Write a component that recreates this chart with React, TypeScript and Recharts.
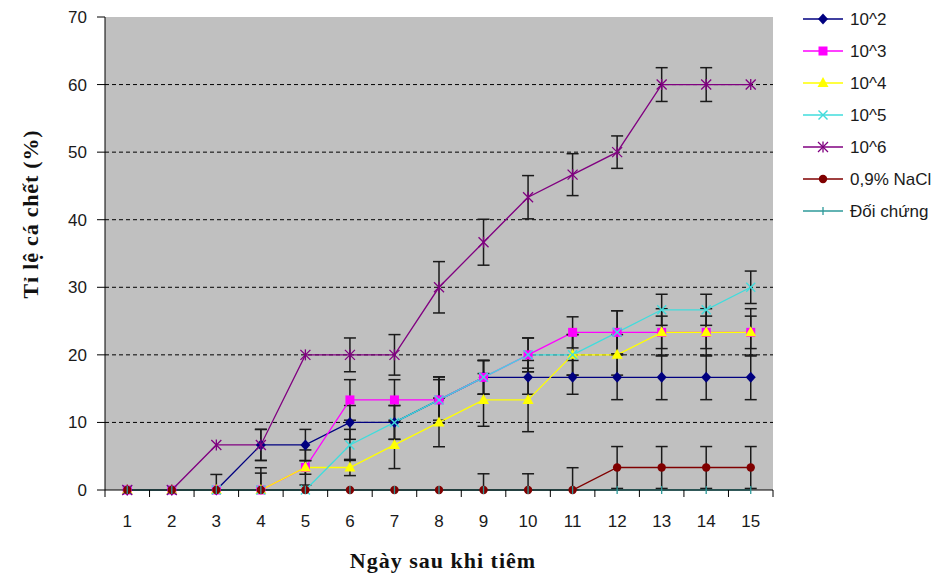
import React from 'react';
import { LineChart, Line, XAxis, YAxis, CartesianGrid, ErrorBar, Legend } from 'recharts';

// ---------- data ----------
const days = ['1', '2', '3', '4', '5', '6', '7', '8', '9', '10', '11', '12', '13', '14', '15'];
const yTicks = [0, 10, 20, 30, 40, 50, 60, 70];
const gridValues = [10, 20, 30, 40, 50, 60];

const v102 = [0, 0, 0, 6.67, 6.67, 10, 10, 13.33, 16.67, 16.67, 16.67, 16.67, 16.67, 16.67, 16.67];
const v103 = [0, 0, 0, 0, 3.33, 13.33, 13.33, 13.33, 16.67, 20, 23.33, 23.33, 23.33, 23.33, 23.33];
const v104 = [0, 0, 0, 0, 3.33, 3.33, 6.67, 10, 13.33, 13.33, 20, 20, 23.33, 23.33, 23.33];
const v105 = [0, 0, 0, 0, 0, 6.67, 10, 13.33, 16.67, 20, 20, 23.33, 26.67, 26.67, 30];
const v106 = [0, 0, 6.67, 6.67, 20, 20, 20, 30, 36.67, 43.33, 46.67, 50, 60, 60, 60];
const vNaCl = [0, 0, 0, 0, 0, 0, 0, 0, 0, 0, 0, 3.33, 3.33, 3.33, 3.33];
const vCtrl = [0, 0, 0, 0, 0, 0, 0, 0, 0, 0, 0, 0, 0, 0, 0];

type Err = number | [number, number] | null;
const e102: Err[] = [null, null, [0, 2.3], 2.3, 2.3, 2.5, 2.5, 3, 2.5, 2.5, 2.5, 3.3, 3.3, 3.3, 3.3];
const e103: Err[] = [null, null, null, [0, 3.3], 2.6, 3, 3, 3.4, 2.5, 2.5, 2.3, 3.2, 2.4, 2.4, 2.4];
const e104: Err[] = [null, null, null, [0, 2.5], 1, 1.2, 3.5, 3.6, 3.9, 4.7, 3, 3, 3.5, 3.5, 3.5];
const e105: Err[] = [null, null, null, null, null, 2.3, 2.5, 3.4, 2.5, 2.5, 3, 3.2, 2.3, 2.3, 2.4];
const e106: Err[] = [null, null, null, 2.3, null, 2.5, 3, 3.8, 3.4, 3.2, 3.1, 2.4, 2.5, 2.5, null];
const eNaCl: Err[] = [null, null, null, null, null, null, null, null, [0, 2.4], [0, 2.4], [0, 3.3], 3.1, 3.1, 3.1, 3.1];
const eCtrl: Err[] = [null, null, null, null, null, null, null, null, null, null, null, null, null, null, null];

const seriesNames = ['10^2', '10^3', '10^4', '10^5', '10^6', '0,9% NaCl', 'Đối chứng'];
const seriesColors = ['#000080', '#FF00FF', '#FFFF00', '#40DCDC', '#800080', '#800000', '#2E9A9A'];
const seriesMarkers = ['diamond', 'square', 'triangle', 'x', 'asterisk', 'circle', 'plus'];
const seriesValues = [v102, v103, v104, v105, v106, vNaCl, vCtrl];
const seriesErrors = [e102, e103, e104, e105, e106, eNaCl, eCtrl];

const SERIES = seriesNames.map((name, i) => ({
  key: 's' + i,
  name,
  color: seriesColors[i],
  marker: seriesMarkers[i],
  values: seriesValues[i],
  errors: seriesErrors[i],
}));

const data = days.map((d, i) => {
  const row: Record<string, any> = { day: d };
  SERIES.forEach((s) => {
    row[s.key] = s.values[i];
    row[s.key + '_e'] = s.errors[i];
  });
  return row;
});

// ---------- layout ----------
const W = 949;
const H = 579;
const PLOT_LEFT = 105;
const PLOT_TOP = 17;
const RIGHT_GAP = 176;
const XAXIS_H = 89;
const PLOT_W = W - PLOT_LEFT - RIGHT_GAP;
const BAND = PLOT_W / days.length;
const X_TICK = 7;
const X_MARGIN = 18;
const SANS = '"Liberation Sans", Arial, sans-serif';
const SERIF = '"Liberation Serif", "Times New Roman", serif';

function Marker({ type, cx, cy, color }: { type: string; cx: number; cy: number; color: string }) {
  if (cx == null || cy == null) return null;
  switch (type) {
    case 'diamond':
      return <polygon points={`${cx},${cy - 5.5} ${cx + 5},${cy} ${cx},${cy + 5.5} ${cx - 5},${cy}`} fill={color} />;
    case 'square':
      return <rect x={cx - 4.5} y={cy - 4.5} width={9} height={9} fill={color} />;
    case 'triangle':
      return <polygon points={`${cx},${cy - 6} ${cx + 5.5},${cy + 4} ${cx - 5.5},${cy + 4}`} fill={color} />;
    case 'x':
      return (
        <g stroke={color} strokeWidth={1.4}>
          <line x1={cx - 4.5} y1={cy - 4.5} x2={cx + 4.5} y2={cy + 4.5} />
          <line x1={cx - 4.5} y1={cy + 4.5} x2={cx + 4.5} y2={cy - 4.5} />
        </g>
      );
    case 'asterisk':
      return (
        <g stroke={color} strokeWidth={1.3}>
          <line x1={cx - 5} y1={cy - 5} x2={cx + 5} y2={cy + 5} />
          <line x1={cx - 5} y1={cy + 5} x2={cx + 5} y2={cy - 5} />
          <line x1={cx} y1={cy - 5.5} x2={cx} y2={cy + 5.5} />
        </g>
      );
    case 'circle':
      return <circle cx={cx} cy={cy} r={4.2} fill={color} />;
    case 'plus':
      return <line x1={cx} y1={cy - 4} x2={cx} y2={cy + 4} stroke={color} strokeWidth={1.3} />;
    default:
      return null;
  }
}

function XTick(props: any) {
  const { x, y, payload, index } = props;
  const half = BAND / 2;
  const y1 = y - X_TICK - X_MARGIN;
  const y2 = y - X_MARGIN;
  return (
    <g>
      {index === 0 && <line x1={x - half} x2={x - half} y1={y1} y2={y2} stroke="#000" />}
      <line x1={x + half} x2={x + half} y1={y1} y2={y2} stroke="#000" />
      <text x={x} y={y} dy="0.71em" textAnchor="middle" fontSize={17} fill="#1a1a1a" fontFamily={SANS}>
        {payload.value}
      </text>
    </g>
  );
}

function LegendContent() {
  return (
    <svg width={150} height={230} style={{ display: 'block' }}>
      {SERIES.map((s, i) => {
        const y = 19 + i * 32;
        return (
          <g key={s.key}>
            <line x1={8} x2={48} y1={y} y2={y} stroke={s.color} strokeWidth={1.5} />
            <Marker type={s.marker} cx={28} cy={y} color={s.color} />
            <text x={55} y={y} dy="0.355em" fontSize={17} fill="#1a1a1a" fontFamily={SANS}>
              {s.name}
            </text>
          </g>
        );
      })}
    </svg>
  );
}

export default function App() {
  const yTitleX = 30;
  const yTitleY = 214;
  return (
    <div style={{ position: 'absolute', left: 0, top: 0, width: W, height: H, background: '#fff' }}>
      <LineChart width={W} height={H} data={data} margin={{ top: PLOT_TOP, right: RIGHT_GAP, bottom: 0, left: 0 }}>
        <CartesianGrid
          vertical={false}
          horizontalValues={gridValues}
          stroke="#000"
          strokeDasharray="4 3"
          fill="#C0C0C0"
          fillOpacity={1}
        />
        <XAxis
          dataKey="day"
          scale="band"
          height={XAXIS_H}
          interval={0}
          axisLine={{ stroke: '#000', strokeWidth: 1 }}
          tickLine={false}
          tickSize={X_TICK}
          tickMargin={X_MARGIN}
          tick={<XTick />}
        />
        <XAxis xAxisId="top" orientation="top" height={0} axisLine={{ stroke: '#909090', strokeWidth: 1.5 }} tick={false} tickLine={false} />
        <YAxis
          width={PLOT_LEFT}
          domain={[0, 70]}
          ticks={yTicks}
          interval={0}
          axisLine={{ stroke: '#000', strokeWidth: 1 }}
          tickLine={{ stroke: '#000' }}
          tickSize={8}
          tickMargin={10}
          tick={{ fontSize: 17, fill: '#1a1a1a', fontFamily: SANS }}
        />
        <YAxis yAxisId="right" orientation="right" width={0} domain={[0, 70]} axisLine={{ stroke: '#909090', strokeWidth: 1.5 }} tick={false} tickLine={false} />
        <Legend layout="vertical" align="center" verticalAlign="middle" wrapperStyle={{ left: 795, top: 0, width: 150 }} content={<LegendContent />} />
        {SERIES.map((s) => (
          <Line
            key={s.key}
            dataKey={s.key}
            name={s.name}
            type="linear"
            stroke={s.color}
            strokeWidth={1.3}
            isAnimationActive={false}
            activeDot={false}
            dot={(p: any) => <Marker key={`${s.key}-${p.index}`} type={s.marker} cx={p.cx} cy={p.cy} color={s.color} />}
          >
            <ErrorBar dataKey={s.key + '_e'} width={6} stroke="#1a1a1a" strokeWidth={1.5} direction="y" isAnimationActive={false} />
          </Line>
        ))}
        <text
          x={yTitleX}
          y={yTitleY}
          transform={`rotate(-90 ${yTitleX} ${yTitleY})`}
          textAnchor="middle"
          dominantBaseline="central"
          fontFamily={SERIF}
          fontWeight="bold"
          fontSize={22}
          letterSpacing={0.8}
          fill="#111"
        >
          Tỉ lệ cá chết (%)
        </text>
        <text
          x={PLOT_LEFT + PLOT_W / 2 + 4}
          y={H - 11}
          textAnchor="middle"
          fontFamily={SERIF}
          fontWeight="bold"
          fontSize={22}
          letterSpacing={1}
          fill="#111"
        >
          Ngày sau khi tiêm
        </text>
      </LineChart>
    </div>
  );
}
